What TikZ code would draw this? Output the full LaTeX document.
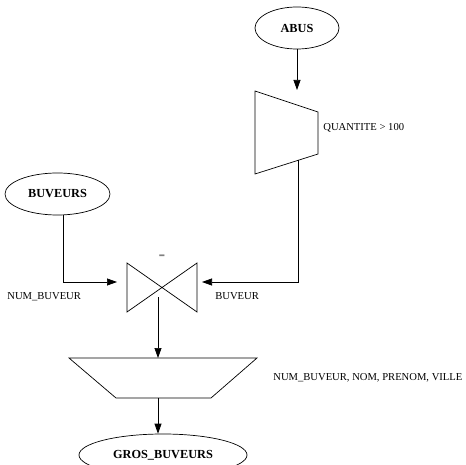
\documentclass[tikz,border=0pt]{standalone}
\usepackage{fontspec}
\setmainfont{Liberation Serif}
\usetikzlibrary{arrows.meta, positioning, shapes.geometric}

\begin{document}
\begin{tikzpicture}[x=1pt, y=-1pt, line width=0.7pt,
  rel/.style={draw, ellipse, inner sep=0pt, minimum height=42pt, font=\fontsize{12.3}{14}\selectfont\bfseries},
  flow/.style={-{Triangle[length=10pt, width=7pt]}},
  lbl/.style={font=\fontsize{10.6}{12}\selectfont, anchor=west, inner sep=0pt}
]
\clip (0,0) rectangle (466,465);
\useasboundingbox (0,0) rectangle (466,465);

\node[rel, minimum width=84pt] (abus) at (297,28) {ABUS};
\node[rel, minimum width=105pt] (buveurs) at (57.5,194) {BUVEURS};
\node[rel, minimum width=168pt] (gros) at (163,455) {GROS\_BUVEURS};

% selection
\draw (255,91) -- (318,112) -- (318,154) -- (255,174) -- cycle;
\coordinate (sel in) at (297,90);
\coordinate (sel out) at (298,160);
\node[lbl] (selcond) at (323,128) {QUANTITE > 100};

% join
\draw (127,263) -- (197,312) -- (197,263) -- (127,312) -- cycle;
\node[font=\fontsize{20}{20}\selectfont\bfseries, text=gray, inner sep=0pt] (joincond) at (162,258) {-};
\coordinate (join w) at (117,282);
\coordinate (join e) at (202,282);
\coordinate (join s) at (158,297);
\node[lbl] (joinleft) at (7,297) {NUM\_BUVEUR};
\node[lbl] (joinright) at (215,296) {BUVEUR};

% projection
\draw (69,358) -- (257,358) -- (211,398) -- (116,398) -- cycle;
\coordinate (proj in) at (158,358);
\coordinate (proj out) at (158,398);
\node[lbl] (projattr) at (273,378) {NUM\_BUVEUR, NOM, PRENOM, VILLE};

\draw[flow] (abus.south) -- (sel in);
\draw[flow] (sel out) |- (join e);
\draw[flow] ([xshift=5.5pt]buveurs.south) |- (join w);
\draw[flow] (join s) -- (proj in);
\draw[flow] (proj out) -- (proj out |- gros.north);
\end{tikzpicture}
\end{document}
